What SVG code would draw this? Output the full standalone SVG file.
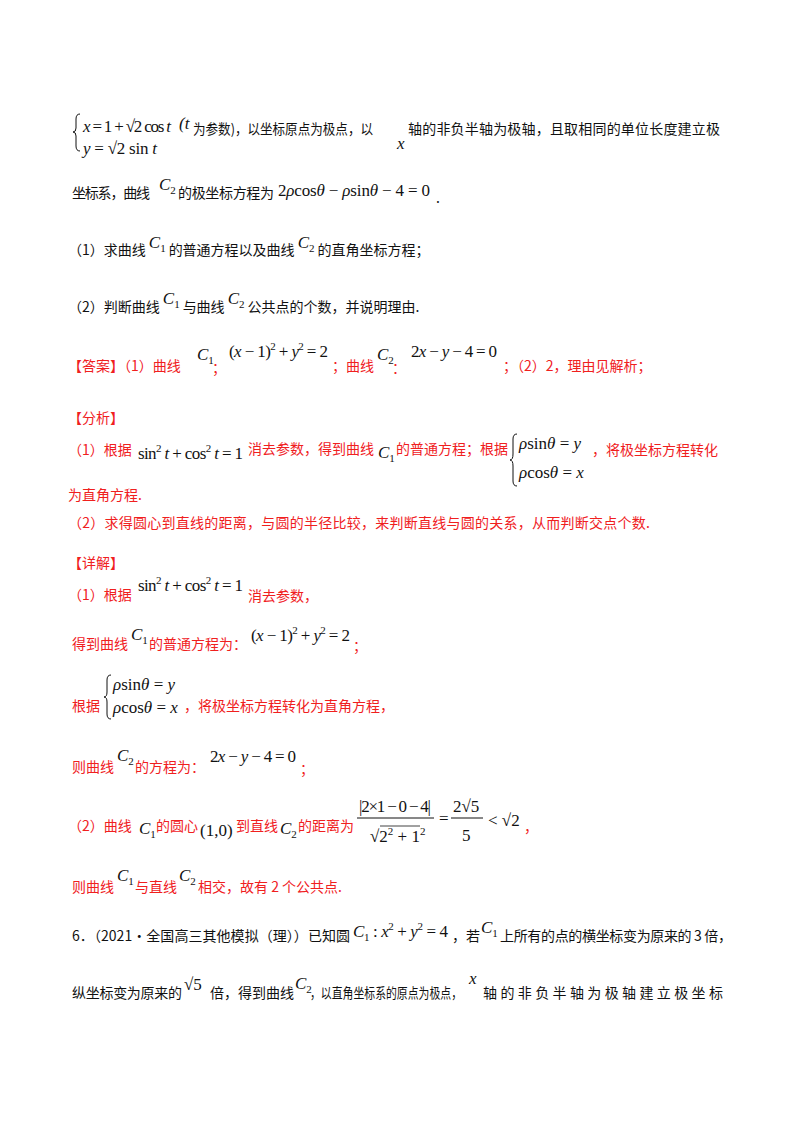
<svg xmlns="http://www.w3.org/2000/svg" width="800" height="1132" viewBox="0 0 800 1132">
<style>
.c{font-family:"Noto Sans CJK SC","Noto Sans CJK JP",sans-serif;font-size:14px;fill:#111}
.r{fill:#f0201e}
.m{font-family:"Liberation Serif","Times New Roman","DejaVu Serif",serif;font-size:17px;fill:#111}
.s{font-size:11px}
.i{font-style:italic}
.b{fill:none;stroke:#111;stroke-width:1}
</style>
<rect width="800" height="1132" fill="#fff"/>
<path class="b" d="M80,114 q-4,0 -4,5 v9 q0,4 -3,4 q3,0 3,4 v10 q0,5 4,5"/>
<text class="m" x="83" y="132" textLength="88"><tspan class="i">x</tspan> = 1 + √2 cos <tspan class="i">t</tspan></text>
<text class="m" x="83" y="154" textLength="74"><tspan class="i">y</tspan> = √2 sin <tspan class="i">t</tspan></text>
<text class="m i" x="179" y="129">(t</text>
<text class="c" x="193" y="134" textLength="180" lengthAdjust="spacingAndGlyphs">为参数)，以坐标原点为极点，以</text>
<text class="m i" x="397" y="149">x</text>
<text class="c" x="408" y="134" textLength="312">轴的非负半轴为极轴，且取相同的单位长度建立极</text>

<text class="c" x="72" y="198" textLength="78">坐标系，曲线</text>
<text class="m i" x="159" y="190">C<tspan class="s" dy="4" font-style="normal">2</tspan></text>
<text class="c" x="178" y="198" textLength="96">的极坐标方程为</text>
<text class="m" x="278" y="196" textLength="152">2<tspan class="i">ρ</tspan>cos<tspan class="i">θ</tspan> − <tspan class="i">ρ</tspan>sin<tspan class="i">θ</tspan> − 4 = 0</text>
<text class="c" x="436" y="203">.</text>

<text class="c" x="68" y="255"><tspan>（1）求曲线</tspan><tspan class="m i" dx="3" dy="-7">C</tspan><tspan class="m s" dy="4">1</tspan><tspan dx="3" dy="3">的普通方程以及曲线</tspan><tspan class="m i" dx="3" dy="-7">C</tspan><tspan class="m s" dy="4">2</tspan><tspan dx="3" dy="3">的直角坐标方程；</tspan></text>
<text class="c" x="68" y="312"><tspan>（2）判断曲线</tspan><tspan class="m i" dx="3" dy="-8">C</tspan><tspan class="m s" dy="4">1</tspan><tspan dx="3" dy="4">与曲线</tspan><tspan class="m i" dx="3" dy="-8">C</tspan><tspan class="m s" dy="4">2</tspan><tspan dx="3" dy="4">公共点的个数，并说明理由.</tspan></text>

<text class="c r" x="68" y="371">【答案】（1）曲线</text>
<text class="m i" x="197" y="360">C<tspan class="s" dy="4" font-style="normal">1</tspan></text>
<text class="c r" x="212" y="373">；</text>
<text class="m" x="229" y="357" textLength="99">(<tspan class="i">x</tspan> − 1)<tspan class="s" dy="-7">2</tspan><tspan dy="7"> + </tspan><tspan class="i">y</tspan><tspan class="s" dy="-7">2</tspan><tspan dy="7"> = 2</tspan></text>
<text class="c r" x="332" y="371">；曲线</text>
<text class="m i" x="377" y="360">C<tspan class="s" dy="4" font-style="normal">2</tspan></text>
<text class="c r" x="392" y="373">：</text>
<text class="m" x="411" y="357" textLength="86">2<tspan class="i">x</tspan> − <tspan class="i">y</tspan> − 4 = 0</text>
<text class="c r" x="503" y="371">；（2）2，理由见解析；</text>

<text class="c r" x="68" y="423">【分析】</text>
<text class="c r" x="68" y="455">（1）根据</text>
<text class="m" x="138" y="459" textLength="105">sin<tspan class="s" dy="-7">2</tspan><tspan dy="7" class="i"> t</tspan> + cos<tspan class="s" dy="-7">2</tspan><tspan dy="7" class="i"> t</tspan> = 1</text>
<text class="c r" x="248" y="454">消去参数，得到曲线</text>
<text class="m i" x="378" y="458">C<tspan class="s" dy="4" font-style="normal">1</tspan></text>
<text class="c r" x="396" y="454">的普通方程；根据</text>
<path class="b" d="M517,434 q-4,0 -4,5 v15 q0,6 -3,6 q3,0 3,6 v15 q0,5 4,5"/>
<text class="m" x="519" y="449"><tspan class="i">ρ</tspan>sin<tspan class="i">θ</tspan> = <tspan class="i">y</tspan></text>
<text class="m" x="519" y="478"><tspan class="i">ρ</tspan>cos<tspan class="i">θ</tspan> = <tspan class="i">x</tspan></text>
<text class="c r" x="592" y="455">，将极坐标方程转化</text>
<text class="c r" x="68" y="500">为直角方程.</text>
<text class="c r" x="68" y="528" textLength="582">（2）求得圆心到直线的距离，与圆的半径比较，来判断直线与圆的关系，从而判断交点个数.</text>

<text class="c r" x="68" y="568">【详解】</text>
<text class="c r" x="68" y="600">（1）根据</text>
<text class="m" x="138" y="591" textLength="105">sin<tspan class="s" dy="-7">2</tspan><tspan dy="7" class="i"> t</tspan> + cos<tspan class="s" dy="-7">2</tspan><tspan dy="7" class="i"> t</tspan> = 1</text>
<text class="c r" x="248" y="601">消去参数，</text>

<text class="c r" x="72" y="649">得到曲线</text>
<text class="m i" x="131" y="640">C<tspan class="s" dy="4" font-style="normal">1</tspan></text>
<text class="c r" x="149" y="649">的普通方程为：</text>
<text class="m" x="251" y="641" textLength="99">(<tspan class="i">x</tspan> − 1)<tspan class="s" dy="-7">2</tspan><tspan dy="7"> + </tspan><tspan class="i">y</tspan><tspan class="s" dy="-7">2</tspan><tspan dy="7"> = 2</tspan></text>
<text class="c r" x="353" y="651">；</text>

<path class="b" d="M111,675 q-4,0 -4,5 v12 q0,5 -3,5 q3,0 3,5 v12 q0,5 4,5"/>
<text class="m" x="113" y="690"><tspan class="i">ρ</tspan>sin<tspan class="i">θ</tspan> = <tspan class="i">y</tspan></text>
<text class="m" x="113" y="713"><tspan class="i">ρ</tspan>cos<tspan class="i">θ</tspan> = <tspan class="i">x</tspan></text>
<text class="c r" x="72" y="711">根据</text>
<text class="c r" x="184" y="711">，将极坐标方程转化为直角方程，</text>

<text class="c r" x="72" y="772">则曲线</text>
<text class="m i" x="117" y="761">C<tspan class="s" dy="4" font-style="normal">2</tspan></text>
<text class="c r" x="135" y="772">的方程为：</text>
<text class="m" x="210" y="762" textLength="86">2<tspan class="i">x</tspan> − <tspan class="i">y</tspan> − 4 = 0</text>
<text class="c r" x="300" y="774">；</text>

<text class="c r" x="68" y="831">（2）曲线</text>
<text class="m i" x="139" y="834">C<tspan class="s" dy="4" font-style="normal">1</tspan></text>
<text class="c r" x="156" y="831">的圆心</text>
<text class="m" x="200" y="836">(1,0)</text>
<text class="c r" x="236" y="831">到直线</text>
<text class="m i" x="280" y="834">C<tspan class="s" dy="4" font-style="normal">2</tspan></text>
<text class="c r" x="298" y="831">的距离为</text>
<text class="m" x="359" y="812" textLength="72">|2×1 − 0 − 4|</text>
<line x1="357" y1="818" x2="434" y2="818" stroke="#111"/>
<text class="m" x="370" y="842">√2<tspan class="s" dy="-7">2</tspan><tspan dy="7"> + 1</tspan><tspan class="s" dy="-7">2</tspan></text>
<line x1="380" y1="826" x2="420" y2="826" stroke="#111" stroke-width="0.8"/>
<text class="m" x="439" y="824">=</text>
<text class="m" x="453" y="812">2√5</text>
<line x1="451" y1="818" x2="483" y2="818" stroke="#111"/>
<text class="m" x="462" y="841">5</text>
<text class="m" x="488" y="826">&lt; √2</text>
<text class="c r" x="524" y="832">，</text>

<text class="c r" x="72" y="892">则曲线</text>
<text class="m i" x="117" y="881">C<tspan class="s" dy="4" font-style="normal">1</tspan></text>
<text class="c r" x="135" y="892">与直线</text>
<text class="m i" x="179" y="881">C<tspan class="s" dy="4" font-style="normal">2</tspan></text>
<text class="c r" x="198" y="892">相交，故有 2 个公共点.</text>

<text class="c" x="72" y="941" textLength="278">6．（2021·全国高三其他模拟（理））已知圆</text>
<text class="m" x="353" y="937" textLength="95"><tspan class="i">C</tspan><tspan class="s" dy="4">1</tspan><tspan dy="-4"> : </tspan><tspan class="i">x</tspan><tspan class="s" dy="-7">2</tspan><tspan dy="7"> + </tspan><tspan class="i">y</tspan><tspan class="s" dy="-7">2</tspan><tspan dy="7"> = 4</tspan></text>
<text class="c" x="452" y="941">，若</text>
<text class="m i" x="481" y="933">C<tspan class="s" dy="4" font-style="normal">1</tspan></text>
<text class="c" x="500" y="941" textLength="232">上所有的点的横坐标变为原来的 3 倍，</text>

<text class="c" x="72" y="998" textLength="110">纵坐标变为原来的</text>
<text class="m" x="184" y="990">√5</text>
<text class="c" x="210" y="998">倍，得到曲线</text>
<text class="m i" x="295" y="989">C<tspan class="s" dy="4" font-style="normal">2</tspan></text>
<text class="c" x="310" y="998" textLength="152" lengthAdjust="spacingAndGlyphs">，以直角坐标系的原点为极点，</text>
<text class="m i" x="469" y="984">x</text>
<text class="c" x="483" y="998" textLength="240">轴的非负半轴为极轴建立极坐标</text>
</svg>
